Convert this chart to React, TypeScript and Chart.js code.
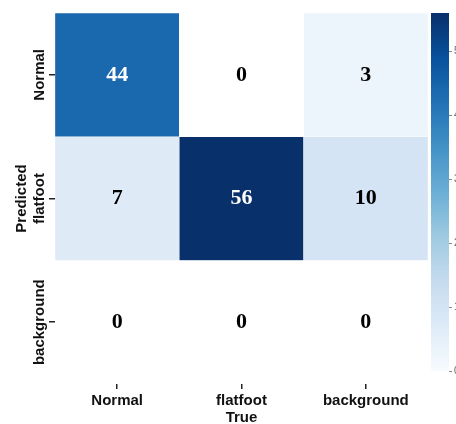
import React, { useEffect, useRef } from "react";
import { Chart, registerables } from "chart.js";

Chart.register(...registerables);

// ---- data ----
const trueLabels = ["Normal", "flatfoot", "background"];
const predictedLabels = ["Normal", "flatfoot", "background"];
const predictedNormal = [44, 0, 3];
const predictedFlatfoot = [7, 56, 10];
const predictedBackground = [0, 0, 0];
const colorbarTicks = [0, 10, 20, 30, 40, 50];
const colorMin = 0;
const colorMax = 56;

const matrix = [predictedNormal, predictedFlatfoot, predictedBackground];

// matplotlib "Blues" colormap control points
const BLUES = ["#f7fbff", "#deebf7", "#c6dbef", "#9ecae1", "#6baed6", "#4292c6", "#2171b5", "#08519c", "#08306b"];

function hexToRgb(h: string) {
  const n = parseInt(h.slice(1), 16);
  return [(n >> 16) & 255, (n >> 8) & 255, n & 255];
}
function blues(t: number) {
  const c = Math.max(0, Math.min(1, t));
  const pos = c * (BLUES.length - 1);
  const i = Math.min(BLUES.length - 2, Math.floor(pos));
  const f = pos - i;
  const a = hexToRgb(BLUES[i]);
  const b = hexToRgb(BLUES[i + 1]);
  const r = a.map((v, k) => Math.round(v + (b[k] - v) * f));
  return `rgb(${r[0]},${r[1]},${r[2]})`;
}
function cellColor(v: number) {
  return v <= colorMin ? "#ffffff" : blues((v - colorMin) / (colorMax - colorMin));
}

const SANS = "'Liberation Sans', Arial, sans-serif";
const SERIF = "'Liberation Serif', 'Times New Roman', serif";

function measure(text: string, font: string) {
  const c = document.createElement("canvas");
  const ctx = c.getContext("2d")!;
  ctx.font = font;
  return ctx.measureText(text).width;
}

const cellValuePlugin = {
  id: "cellValues",
  afterDatasetsDraw(chart: any) {
    const ctx = chart.ctx;
    chart.data.datasets.forEach((ds: any, di: number) => {
      const meta = chart.getDatasetMeta(di);
      meta.data.forEach((el: any, i: number) => {
        const v = matrix[di][i];
        const p = el.getProps(["x", "y", "base"], true);
        ctx.save();
        ctx.font = `bold 22px ${SERIF}`;
        ctx.fillStyle = (v - colorMin) / (colorMax - colorMin) > 0.6 ? "#ffffff" : "#000000";
        ctx.textAlign = "center";
        ctx.textBaseline = "middle";
        ctx.fillText(String(v), p.x, (p.y + p.base) / 2);
        ctx.restore();
      });
    });
  },
};

export default function App() {
  const mainRef = useRef<HTMLCanvasElement>(null);
  const cbRef = useRef<HTMLCanvasElement>(null);

  useEffect(() => {
    Chart.defaults.font.family = SANS;
    const tickFont = `bold 15px ${SANS}`;
    const widest = Math.max(...predictedLabels.map((l) => measure(l, tickFont)));
    const yTickLen = 6;
    const yLabelCenterX = 40;
    const yAxisWidth = 55;
    const yPadding = yAxisWidth - yTickLen - yLabelCenterX - widest / 2;

    const datasets = matrix.map((row, r) => ({
      label: predictedLabels[r],
      data: row.map(() => [r, r + 1]),
      backgroundColor: row.map((v) => cellColor(v)),
      borderColor: "#ffffff",
      borderWidth: 0.5,
      borderSkipped: false,
      grouped: false,
      categoryPercentage: 1,
      barPercentage: 1,
    }));

    const main = new Chart(mainRef.current!, {
      type: "bar",
      data: { labels: trueLabels, datasets: datasets as any },
      options: {
        responsive: false,
        animation: false,
        layout: { padding: { left: 0, right: 28, top: 13, bottom: 0 } },
        plugins: { legend: { display: false }, tooltip: { enabled: false } },
        scales: {
          x: {
            type: "category",
            offset: true,
            grid: { display: true, drawOnChartArea: false, drawTicks: true, tickLength: 5, color: "#222", lineWidth: 1.5, offset: false },
            border: { display: false },
            ticks: { font: { size: 15, weight: "bold" }, color: "#111", padding: 3, maxRotation: 0, minRotation: 0 },
            title: { display: true, text: "True", font: { size: 15, weight: "bold" }, color: "#111", padding: { top: 0, bottom: -3 } },
            afterFit: (s: any) => { s.height = 40; },
          },
          y: {
            type: "linear",
            min: 0,
            max: 3,
            reverse: true,
            afterBuildTicks: (s: any) => { s.ticks = predictedLabels.map((_, i) => ({ value: i + 0.5 })); },
            grid: { display: true, drawOnChartArea: false, drawTicks: true, tickLength: yTickLen, color: "#222", lineWidth: 1.5 },
            border: { display: false },
            ticks: {
              font: { size: 15, weight: "bold" },
              color: "#111",
              minRotation: 90,
              maxRotation: 90,
              crossAlign: "center",
              padding: yPadding,
              callback: (v: any) => predictedLabels[Math.floor(Number(v))],
            },
            title: { display: true, text: "Predicted", font: { size: 15, weight: "bold" }, color: "#111", padding: { top: 13, bottom: 0 } },
            afterFit: (s: any) => { s.width = yAxisWidth; },
          },
        },
      } as any,
      plugins: [cellValuePlugin],
    });

    const cb = new Chart(cbRef.current!, {
      type: "bar",
      data: {
        labels: [""],
        datasets: [
          {
            data: [[colorMin, colorMax]],
            backgroundColor: (c: any) => {
              const { chart } = c;
              const area = chart.chartArea;
              if (!area) return BLUES[4];
              const g = chart.ctx.createLinearGradient(0, area.bottom, 0, area.top);
              BLUES.forEach((col, i) => g.addColorStop(i / (BLUES.length - 1), col));
              return g;
            },
            borderWidth: 0,
            categoryPercentage: 1,
            barPercentage: 1,
          } as any,
        ],
      },
      options: {
        responsive: false,
        animation: false,
        layout: { padding: { left: 11, right: 0, top: 13, bottom: 53 } },
        plugins: { legend: { display: false }, tooltip: { enabled: false } },
        scales: {
          x: { display: false, offset: true },
          y: {
            position: "right",
            min: colorMin,
            max: colorMax,
            afterBuildTicks: (s: any) => { s.ticks = colorbarTicks.map((v) => ({ value: v })); },
            grid: { display: true, drawOnChartArea: false, drawTicks: true, tickLength: 3, color: "#888", lineWidth: 1 },
            border: { display: false },
            ticks: { font: { size: 10 }, color: "#666", padding: 2 },
            afterFit: (s: any) => { s.width = 31; },
          },
        },
      } as any,
    });

    return () => {
      main.destroy();
      cb.destroy();
    };
  }, []);

  return (
    <div style={{ position: "fixed", left: 0, top: 0, width: 456, height: 424, overflow: "hidden", background: "#fff" }}>
      <canvas ref={mainRef} width={456} height={424} style={{ position: "absolute", left: 0, top: 0 }} />
      <canvas ref={cbRef} width={60} height={424} style={{ position: "absolute", left: 420, top: 0 }} />
    </div>
  );
}
